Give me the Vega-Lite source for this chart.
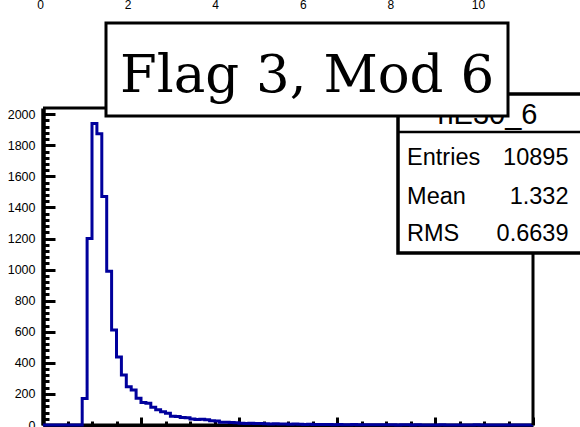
{
  "$schema": "https://vega.github.io/schema/vega-lite/v6.json",
  "width": 490,
  "height": 317,
  "autosize": {"type": "none"},
  "padding": {"left": 43, "top": 108, "right": 47, "bottom": 2},
  "background": "white",
  "config": {"view": {"stroke": null}, "font": "Liberation Sans"},
  "datasets": {
    "hist": [
      {"x": 0.0, "n": 0}, {"x": 0.1, "n": 0}, {"x": 0.2, "n": 0}, {"x": 0.3, "n": 0}, {"x": 0.4, "n": 0},
      {"x": 0.5, "n": 0}, {"x": 0.6, "n": 0}, {"x": 0.7, "n": 0}, {"x": 0.8, "n": 170}, {"x": 0.9, "n": 1200},
      {"x": 1.0, "n": 1940}, {"x": 1.1, "n": 1875}, {"x": 1.2, "n": 1470}, {"x": 1.3, "n": 990}, {"x": 1.4, "n": 612},
      {"x": 1.5, "n": 438}, {"x": 1.6, "n": 322}, {"x": 1.7, "n": 246}, {"x": 1.8, "n": 225}, {"x": 1.9, "n": 172},
      {"x": 2.0, "n": 145}, {"x": 2.1, "n": 140}, {"x": 2.2, "n": 115}, {"x": 2.3, "n": 98}, {"x": 2.4, "n": 85},
      {"x": 2.5, "n": 75}, {"x": 2.6, "n": 56}, {"x": 2.7, "n": 54}, {"x": 2.8, "n": 48}, {"x": 2.9, "n": 46},
      {"x": 3.0, "n": 38}, {"x": 3.1, "n": 36}, {"x": 3.2, "n": 37}, {"x": 3.3, "n": 34}, {"x": 3.4, "n": 28},
      {"x": 3.5, "n": 26}, {"x": 3.6, "n": 18}, {"x": 3.7, "n": 17}, {"x": 3.8, "n": 16}, {"x": 3.9, "n": 15},
      {"x": 4.0, "n": 11}, {"x": 4.1, "n": 10}, {"x": 4.2, "n": 12}, {"x": 4.3, "n": 9}, {"x": 4.4, "n": 10},
      {"x": 4.5, "n": 8}, {"x": 4.6, "n": 7}, {"x": 4.7, "n": 8}, {"x": 4.8, "n": 6}, {"x": 4.9, "n": 6},
      {"x": 5.0, "n": 5}, {"x": 5.1, "n": 6}, {"x": 5.2, "n": 5}, {"x": 5.3, "n": 4}, {"x": 5.4, "n": 5},
      {"x": 5.5, "n": 4}, {"x": 5.6, "n": 3}, {"x": 5.7, "n": 4}, {"x": 5.8, "n": 3}, {"x": 5.9, "n": 2},
      {"x": 6.0, "n": 3}, {"x": 6.1, "n": 2}, {"x": 6.2, "n": 2}, {"x": 6.3, "n": 3}, {"x": 6.4, "n": 1},
      {"x": 6.5, "n": 2}, {"x": 6.6, "n": 2}, {"x": 6.7, "n": 1}, {"x": 6.8, "n": 1}, {"x": 6.9, "n": 2},
      {"x": 7.0, "n": 1}, {"x": 7.1, "n": 1}, {"x": 7.2, "n": 0}, {"x": 7.3, "n": 1}, {"x": 7.4, "n": 1},
      {"x": 7.5, "n": 0}, {"x": 7.6, "n": 1}, {"x": 7.7, "n": 0}, {"x": 7.8, "n": 0}, {"x": 7.9, "n": 0},
      {"x": 8.0, "n": 0}, {"x": 8.1, "n": 1}, {"x": 8.2, "n": 0}, {"x": 8.3, "n": 0}, {"x": 8.4, "n": 0},
      {"x": 8.5, "n": 0}, {"x": 8.6, "n": 0}, {"x": 8.7, "n": 0}, {"x": 8.8, "n": 1}, {"x": 8.9, "n": 0},
      {"x": 9.0, "n": 0}, {"x": 9.1, "n": 0}, {"x": 9.2, "n": 0}, {"x": 9.3, "n": 0}, {"x": 9.4, "n": 0},
      {"x": 9.5, "n": 0}, {"x": 9.6, "n": 0}, {"x": 9.7, "n": 0}, {"x": 9.8, "n": 0}, {"x": 9.9, "n": 0},
      {"x": 10.0, "n": 0}
    ]
  },
  "layer": [
    {
      "data": {"name": "hist"},
      "mark": {"type": "line", "interpolate": "step-after", "color": "#00009c", "strokeWidth": 3},
      "encoding": {
        "x": {
          "field": "x", "type": "quantitative",
          "scale": {"domain": [0, 10], "nice": false, "zero": false},
          "axis": {
            "title": null,
            "values": [0, 0.5, 1, 1.5, 2, 2.5, 3, 3.5, 4, 4.5, 5, 5.5, 6, 6.5, 7, 7.5, 8, 8.5, 9, 9.5, 10],
            "tickSize": {"condition": {"test": "datum.value % 2 === 0", "value": -8}, "value": -4},
            "tickWidth": 3,
            "tickColor": "black",
            "labels": false,
            "domainColor": "black",
            "domainWidth": 4,
            "grid": false
          }
        },
        "y": {
          "field": "n", "type": "quantitative",
          "scale": {"domain": [0, 2040], "nice": false, "zero": false},
          "axis": {
            "title": null,
            "values": [0, 40, 80, 120, 160, 200, 240, 280, 320, 360, 400, 440, 480, 520, 560, 600, 640, 680, 720, 760, 800, 840, 880, 920, 960, 1000, 1040, 1080, 1120, 1160, 1200, 1240, 1280, 1320, 1360, 1400, 1440, 1480, 1520, 1560, 1600, 1640, 1680, 1720, 1760, 1800, 1840, 1880, 1920, 1960, 2000],
            "format": "d",
            "tickSize": {"condition": {"test": "datum.value % 200 === 0", "value": -12}, "value": -6},
            "tickWidth": 3,
            "tickColor": "black",
            "labelExpr": "datum.value % 200 === 0 ? datum.label : ''",
            "labelPadding": 20,
            "labelFontSize": 12.5,
            "labelColor": "black",
            "labelFlush": false,
            "labelOverlap": false,
            "domainColor": "black",
            "domainWidth": 4.5,
            "grid": false
          }
        }
      }
    },
    {
      "data": {"values": [{}]},
      "layer": [
        {
          "mark": {"type": "rule", "color": "black", "strokeWidth": 3},
          "encoding": {
            "x": {"datum": 10, "type": "quantitative", "scale": {"domain": [0, 10], "nice": false, "zero": false}, "axis": null},
            "y": {"datum": 0, "type": "quantitative", "scale": {"domain": [0, 2040], "nice": false, "zero": false}, "axis": null},
            "y2": {"datum": 2040}
          }
        },
        {
          "mark": {"type": "rule", "color": "black", "strokeWidth": 3},
          "encoding": {"x": {"datum": 0, "type": "quantitative", "axis": null}, "x2": {"datum": 10}, "y": {"datum": 2040, "type": "quantitative", "axis": null}}
        },
        {
          "mark": {"type": "rect", "fill": "white", "stroke": "black", "strokeWidth": 3.5},
          "encoding": {"x": {"datum": 7.2449, "type": "quantitative", "axis": null}, "x2": {"datum": 11.1}, "y": {"datum": 2130, "type": "quantitative", "axis": null}, "y2": {"datum": 1107}}
        },
        {
          "mark": {"type": "rule", "color": "black", "strokeWidth": 2.5},
          "encoding": {"x": {"datum": 7.2449, "type": "quantitative", "axis": null}, "x2": {"datum": 11.1}, "y": {"datum": 1885, "type": "quantitative", "axis": null}}
        },
        {
          "mark": {"type": "text", "text": "hE30_6", "font": "Liberation Sans", "fontSize": 29, "align": "center", "baseline": "alphabetic", "color": "black"},
          "encoding": {"x": {"datum": 9.07, "type": "quantitative", "axis": null}, "y": {"datum": 1937, "type": "quantitative", "axis": null}}
        },
        {
          "mark": {"type": "text", "text": "Entries", "fontSize": 23.5, "align": "left", "baseline": "alphabetic", "color": "black"},
          "encoding": {"x": {"datum": 7.43, "type": "quantitative", "axis": null}, "y": {"datum": 1676, "type": "quantitative", "axis": null}}
        },
        {
          "mark": {"type": "text", "text": "Mean", "fontSize": 23.5, "align": "left", "baseline": "alphabetic", "color": "black"},
          "encoding": {"x": {"datum": 7.43, "type": "quantitative", "axis": null}, "y": {"datum": 1422, "type": "quantitative", "axis": null}}
        },
        {
          "mark": {"type": "text", "text": "RMS", "fontSize": 23.5, "align": "left", "baseline": "alphabetic", "color": "black"},
          "encoding": {"x": {"datum": 7.43, "type": "quantitative", "axis": null}, "y": {"datum": 1184, "type": "quantitative", "axis": null}}
        },
        {
          "mark": {"type": "text", "text": "10895", "fontSize": 23.5, "align": "right", "baseline": "alphabetic", "color": "black"},
          "encoding": {"x": {"datum": 10.724, "type": "quantitative", "axis": null}, "y": {"datum": 1676, "type": "quantitative", "axis": null}}
        },
        {
          "mark": {"type": "text", "text": "1.332", "fontSize": 23.5, "align": "right", "baseline": "alphabetic", "color": "black"},
          "encoding": {"x": {"datum": 10.724, "type": "quantitative", "axis": null}, "y": {"datum": 1422, "type": "quantitative", "axis": null}}
        },
        {
          "mark": {"type": "text", "text": "0.6639", "fontSize": 23.5, "align": "right", "baseline": "alphabetic", "color": "black"},
          "encoding": {"x": {"datum": 10.724, "type": "quantitative", "axis": null}, "y": {"datum": 1184, "type": "quantitative", "axis": null}}
        },
        {
          "mark": {"type": "rect", "fill": "white", "stroke": "black", "strokeWidth": 3},
          "encoding": {"x": {"datum": 1.2857, "type": "quantitative", "axis": null}, "x2": {"datum": 9.4898}, "y": {"datum": 2587, "type": "quantitative", "axis": null}, "y2": {"datum": 1988}}
        },
        {
          "mark": {"type": "text", "text": "Flag 3, Mod 6", "font": "DejaVu Serif", "fontSize": 53, "align": "center", "baseline": "alphabetic", "color": "black"},
          "encoding": {"x": {"datum": 5.388, "type": "quantitative", "axis": null}, "y": {"datum": 2145, "type": "quantitative", "axis": null}}
        }
      ]
    },
    {
      "data": {"values": [{"t": 0}, {"t": 10}]},
      "mark": {"type": "point", "opacity": 0},
      "encoding": {
        "x": {
          "field": "t", "type": "quantitative",
          "scale": {"domain": [0, 10], "range": [-3, 435], "nice": false, "zero": false},
          "axis": {
            "orient": "top",
            "title": null,
            "values": [0, 2, 4, 6, 8, 10],
            "ticks": false,
            "domain": false,
            "grid": false,
            "labelPadding": 0,
            "offset": 97,
            "labelFontSize": 12,
            "labelColor": "black",
            "labelFlush": false,
            "labelOverlap": false
          }
        }
      }
    }
  ],
  "resolve": {"scale": {"x": "independent", "y": "independent"}}
}
